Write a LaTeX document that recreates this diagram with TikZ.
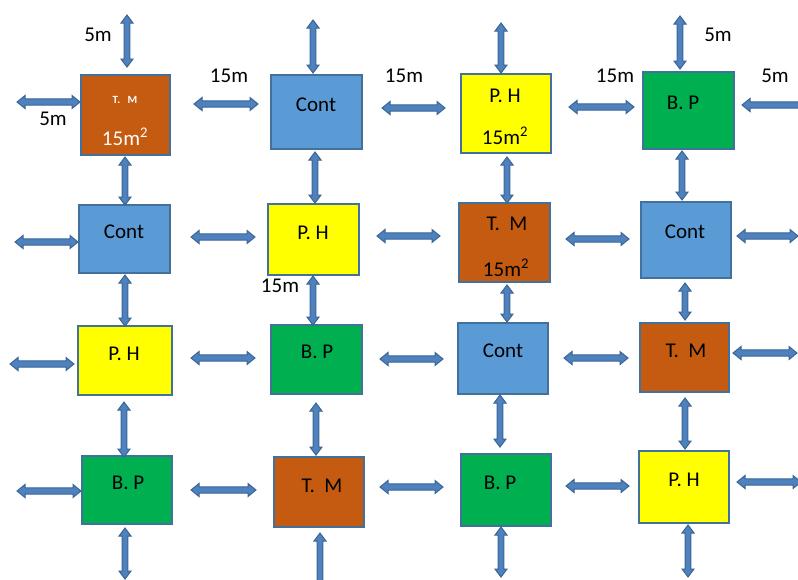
\documentclass[tikz,border=0pt]{standalone}
\usepackage{fontspec}
\setmainfont{Carlito}
\definecolor{boxline}{HTML}{41719C}
\definecolor{tmfill}{HTML}{C55A11}
\definecolor{contfill}{HTML}{5B9BD5}
\definecolor{phfill}{HTML}{FFFF00}
\definecolor{bpfill}{HTML}{00B050}
\definecolor{arrfill}{HTML}{4F81BD}
\definecolor{arrline}{HTML}{3A6597}
\newcommand{\hdarr}[3]{%
  \filldraw[arrow] (#1,#3) -- ({#1+8},{#3-6.5}) -- ({#1+8},{#3-3.2}) -- ({#2-8},{#3-3.2}) -- ({#2-8},{#3-6.5}) -- (#2,#3)
   -- ({#2-8},{#3+6.5}) -- ({#2-8},{#3+3.2}) -- ({#1+8},{#3+3.2}) -- ({#1+8},{#3+6.5}) -- cycle;}
\newcommand{\vdarr}[3]{%
  \filldraw[arrow] (#1,#2) -- ({#1+6},{#2+8}) -- ({#1+2.8},{#2+8}) -- ({#1+2.8},{#3-8}) -- ({#1+6},{#3-8}) -- (#1,#3)
   -- ({#1-6},{#3-8}) -- ({#1-2.8},{#3-8}) -- ({#1-2.8},{#2+8}) -- ({#1-6},{#2+8}) -- cycle;}
\begin{document}
\begin{tikzpicture}[x=1pt,y=-1pt,
  arrow/.style={fill=arrfill, draw=arrline, line width=1pt, line join=miter},
  box/.style={draw=boxline, line width=2pt, inner sep=0pt},
  txt/.style={inner sep=0pt, font=\fontsize{21}{25}\selectfont},
  wtxt/.style={txt, text=white},
  small/.style={inner sep=0pt, font=\fontsize{11}{13}\selectfont\bfseries, text=white}]
\useasboundingbox (0,0) rectangle (798,579);
\clip (0,0) rectangle (798,579);
% boxes row 1
\node[box, fill=tmfill, minimum width=89pt, minimum height=80pt] (b11) at (125.5,115) {};
\node[box, fill=contfill, minimum width=91pt, minimum height=74pt] (b12) at (316.5,112) {};
\node[box, fill=phfill, minimum width=90pt, minimum height=79pt] (b13) at (506,113.5) {};
\node[box, fill=bpfill, minimum width=91pt, minimum height=77pt] (b14) at (688.5,110.5) {};
% row 2
\node[box, fill=contfill, minimum width=91pt, minimum height=68pt] (b21) at (124.5,239) {};
\node[box, fill=phfill, minimum width=91pt, minimum height=71pt] (b22) at (313.5,239.5) {};
\node[box, fill=tmfill, minimum width=91pt, minimum height=79pt] (b23) at (504.5,242.5) {};
\node[box, fill=contfill, minimum width=90pt, minimum height=76pt] (b24) at (686,240) {};
% row 3
\node[box, fill=phfill, minimum width=94pt, minimum height=69pt] (b31) at (125,360.5) {};
\node[box, fill=bpfill, minimum width=91pt, minimum height=69pt] (b32) at (316.5,359.5) {};
\node[box, fill=contfill, minimum width=90pt, minimum height=71pt] (b33) at (503,358.5) {};
\node[box, fill=tmfill, minimum width=89pt, minimum height=69pt] (b34) at (684.5,357.5) {};
% row 4
\node[box, fill=bpfill, minimum width=90pt, minimum height=68pt] (b41) at (127,490) {};
\node[box, fill=tmfill, minimum width=90pt, minimum height=70pt] (b42) at (319,492) {};
\node[box, fill=bpfill, minimum width=90pt, minimum height=72pt] (b43) at (506,490) {};
\node[box, fill=phfill, minimum width=90pt, minimum height=72pt] (b44) at (684,487) {};
% box texts
\node[small] (t11a) at (125,100) {T.\ \ \ M};
\node[wtxt] (t11b) at (125,137) {15m\textsuperscript{2}};
\node[txt] (t12) at (316,105) {Cont};
\node[txt] (t13a) at (505,96) {P. H};
\node[txt] (t13b) at (505,136) {15m\textsuperscript{2}};
\node[txt] (t14) at (683,103) {B. P};
\node[txt] (t21) at (124,232) {Cont};
\node[txt] (t22) at (313,233) {P. H};
\node[txt] (t23a) at (507,224) {T.\ \ M};
\node[txt] (t23b) at (506,268) {15m\textsuperscript{2}};
\node[txt] (t24) at (685,232) {Cont};
\node[txt] (t31) at (124,354) {P. H};
\node[txt] (t32) at (317,352) {B. P};
\node[txt] (t33) at (503,351) {Cont};
\node[txt] (t34) at (686,351) {T.\ \ M};
\node[txt] (t41) at (128,483) {B. P};
\node[txt] (t42) at (322,486) {T.\ \ M};
\node[txt] (t43) at (500,483) {B. P};
\node[txt] (t44) at (684,480) {P. H};
% distance labels
\node[txt] (l1) at (98,35) {5m};
\node[txt] (l2) at (53,119) {5m};
\node[txt] (l3) at (229,76) {15m};
\node[txt] (l4) at (404,76) {15m};
\node[txt] (l5) at (615,76) {15m};
\node[txt] (l6) at (718,35) {5m};
\node[txt] (l7) at (775,76) {5m};
\node[txt] (l8) at (280,286) {15m};
% horizontal arrows
\hdarr{17}{80}{102}\hdarr{194}{258}{104}\hdarr{382}{445}{108}\hdarr{569}{634}{107}\hdarr{742}{830}{105}
\hdarr{15}{78}{242}\hdarr{191}{255}{237}\hdarr{377}{440}{236}\hdarr{566}{629}{239}\hdarr{737}{798}{236}
\hdarr{10}{74}{364}\hdarr{191}{255}{358}\hdarr{380}{443}{359}\hdarr{564}{628}{358}\hdarr{733}{797}{353}
\hdarr{17}{81}{491}\hdarr{191}{256}{490}\hdarr{380}{443}{487}\hdarr{566}{629}{486}\hdarr{737}{801}{482}
% vertical arrows
\vdarr{127}{15}{67}\vdarr{313}{20}{73}\vdarr{501}{23}{73}\vdarr{680}{16}{69}
\vdarr{125}{157}{205}\vdarr{315}{152}{203}\vdarr{507}{157}{203}\vdarr{682}{151}{200}
\vdarr{125}{275}{326}\vdarr{313}{276}{325}\vdarr{507}{285}{322}\vdarr{685}{283}{320}
\vdarr{124}{402}{457}\vdarr{316}{403}{455}\vdarr{500}{395}{447}\vdarr{685}{398}{449}
\vdarr{125}{528}{579}\vdarr{320}{533}{600}\vdarr{501}{527}{577}\vdarr{688}{525}{577}
\end{tikzpicture}
\end{document}
